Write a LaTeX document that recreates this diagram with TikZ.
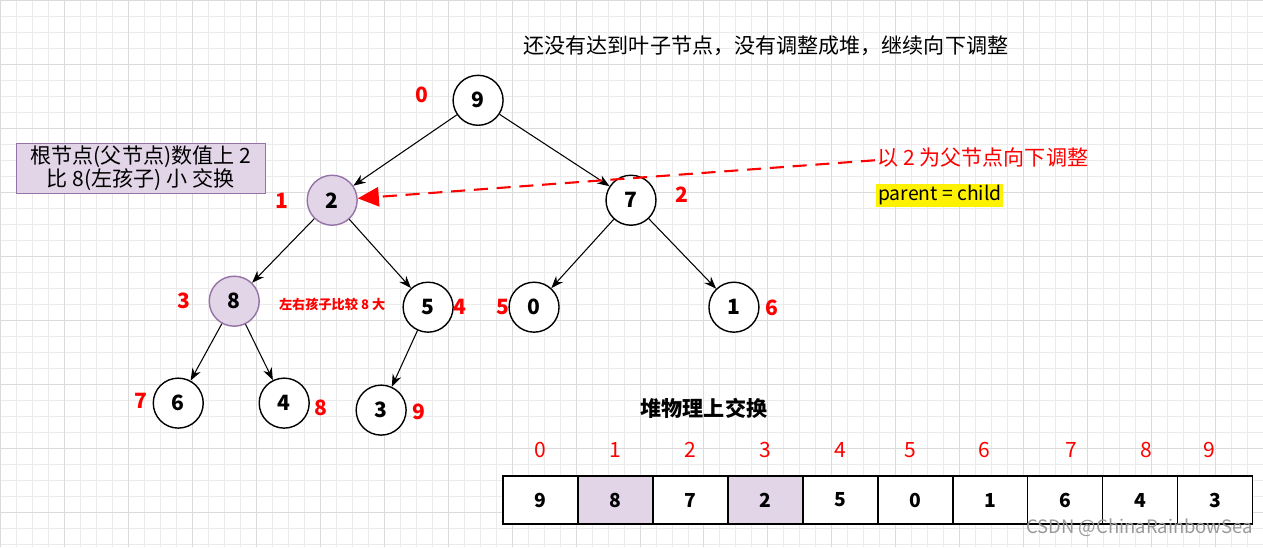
\documentclass[tikz,border=0pt]{standalone}
\usepackage{fontspec}
\setmainfont{Noto Sans CJK SC}
\usetikzlibrary{arrows.meta}
\definecolor{lav}{HTML}{E1D5E7}
\definecolor{lavd}{HTML}{9673A6}
\begin{document}
\begin{tikzpicture}[x=0.02cm,y=-0.02cm,
  nd/.style={circle,draw,thick,minimum size=50*0.02cm,inner sep=0pt,font=\bfseries\fontsize{12}{14}\selectfont,fill=white},
  hl/.style={fill=lav,draw=lavd},
  idx/.style={text=red,font=\bfseries\fontsize{12}{14}\selectfont},
  aidx/.style={text=red,font=\fontsize{12}{14}\selectfont},
  cell/.style={draw,thick,minimum width=75*0.02cm,minimum height=48*0.02cm,inner sep=0pt,font=\bfseries\fontsize{11}{13}\selectfont,fill=white},
  ed/.style={-{Stealth[length=7pt]},semithick}]
\fill[white] (0,0) rectangle (1263,547);
\draw[black!8,step=0.32cm] (0,0) grid (1263,547);
\draw[black!14,step=1.28cm] (0,0) grid (1263,547);
\useasboundingbox (0,0) rectangle (1263,547);
\node[font=\fontsize{12}{14}\selectfont] (title) at (766,45) {还没有达到叶子节点，没有调整成堆，继续向下调整};
\node[nd] (n0) at (478,100) {9};
\node[nd,hl] (n1) at (332,200) {2};
\node[nd] (n2) at (631,200) {7};
\node[nd,hl] (n3) at (234,301) {8};
\node[nd] (n4) at (428,307) {5};
\node[nd] (n5) at (534,307) {0};
\node[nd] (n6) at (734,307) {1};
\node[nd] (n7) at (178,403) {6};
\node[nd] (n8) at (284,403) {4};
\node[nd] (n9) at (381,410) {3};
\foreach \a/\b in {n0/n1,n0/n2,n1/n3,n1/n4,n2/n5,n2/n6,n3/n7,n3/n8,n4/n9}
  \draw[ed] (\a) -- (\b);
\node[idx] (i0) at (422,95) {0};
\node[idx] (i1) at (282,201) {1};
\node[idx] (i2) at (682,194) {2};
\node[idx] (i3) at (184,301) {3};
\node[idx] (i4) at (460,307) {4};
\node[idx] (i5) at (503,307) {5};
\node[idx] (i6) at (772,308) {6};
\node[idx] (i7) at (141,401) {7};
\node[idx] (i8) at (321,408) {8};
\node[idx] (i9) at (419,412) {9};
\node[draw=lavd,fill=lav,thick,minimum width=249*0.02cm,minimum height=50*0.02cm,align=center,inner sep=1pt,font=\fontsize{12}{13}\selectfont] (box) at (140.5,168) {根节点(父节点)数值上 2\\比 8(左孩子) 小 交换};
\node[text=red,font=\fontsize{12}{14}\selectfont] (note) at (983,157) {以 2 为父节点向下调整};
\coordinate (ns) at (875,160);
\draw[red,very thick,dashed,dash pattern=on 8pt off 5pt,-{Triangle[length=12pt,width=11pt]}] (ns) -- (n1);
\node[fill=yellow,inner sep=1pt,font=\fontsize{11}{13}\selectfont] (pc) at (940,195) {parent = child};
\node[text=red,font=\bfseries\fontsize{7.5}{9}\selectfont] (cmp) at (332,304) {左右孩子比较 8 大};
\node[font=\bfseries\fontsize{12}{14}\selectfont] (swap) at (704,408) {堆物理上交换};
\foreach \v [count=\i from 0] in {9,8,7,2,5,0,1,6,4,3}
  \node[cell] (c\i) at (540.5+75*\i,500) {\v};
\node[cell,fill=lav] at (c1) {8};
\node[cell,fill=lav] at (c3) {2};
\foreach \v/\x in {0/540,1/615,2/690,3/765,4/840,5/910,6/985,7/1072,8/1147,9/1210}
  \node[aidx] (a\v) at (\x,450) {\v};
\node[text=black!40,font=\fontsize{10.5}{12}\selectfont] (wm) at (1140,528) {CSDN @ChinaRainbowSea};
\end{tikzpicture}
\end{document}
